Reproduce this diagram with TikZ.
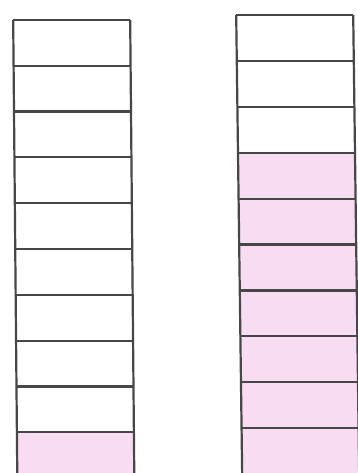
\documentclass[tikz,border=0pt]{standalone}
\begin{document}
\begin{tikzpicture}[x=1pt,y=-1pt,
  cellline/.style={draw=black!72, line width=2.2pt},
  pinkfill/.style={fill=cellpink}]
\definecolor{cellpink}{RGB}{248,220,242}
\useasboundingbox (0,0) rectangle (357,473);
\fill[white] (0,0) rectangle (357,473);
\begin{scope}[xslant=-0.009]
  % left column: 10 cells, bottom one pink
  \fill[pinkfill] (13,432.2) rectangle (130,480);
  \foreach \i in {0,...,9} {
    \draw[cellline] (13,{20+45.8*\i}) -- (130,{20+45.8*\i});
  }
  \draw[cellline] (13,20) -- (13,480);
  \draw[cellline] (130,20) -- (130,480);
\end{scope}
\begin{scope}[xslant=-0.013]
  % right column: 10 cells, bottom seven pink
  \fill[pinkfill] (236,152.7) rectangle (353,480);
  \foreach \i in {0,...,9} {
    \draw[cellline] (236,{15+45.9*\i}) -- (353,{15+45.9*\i});
  }
  \draw[cellline] (236,15) -- (236,480);
  \draw[cellline] (353,15) -- (353,480);
\end{scope}
\end{tikzpicture}
\end{document}
